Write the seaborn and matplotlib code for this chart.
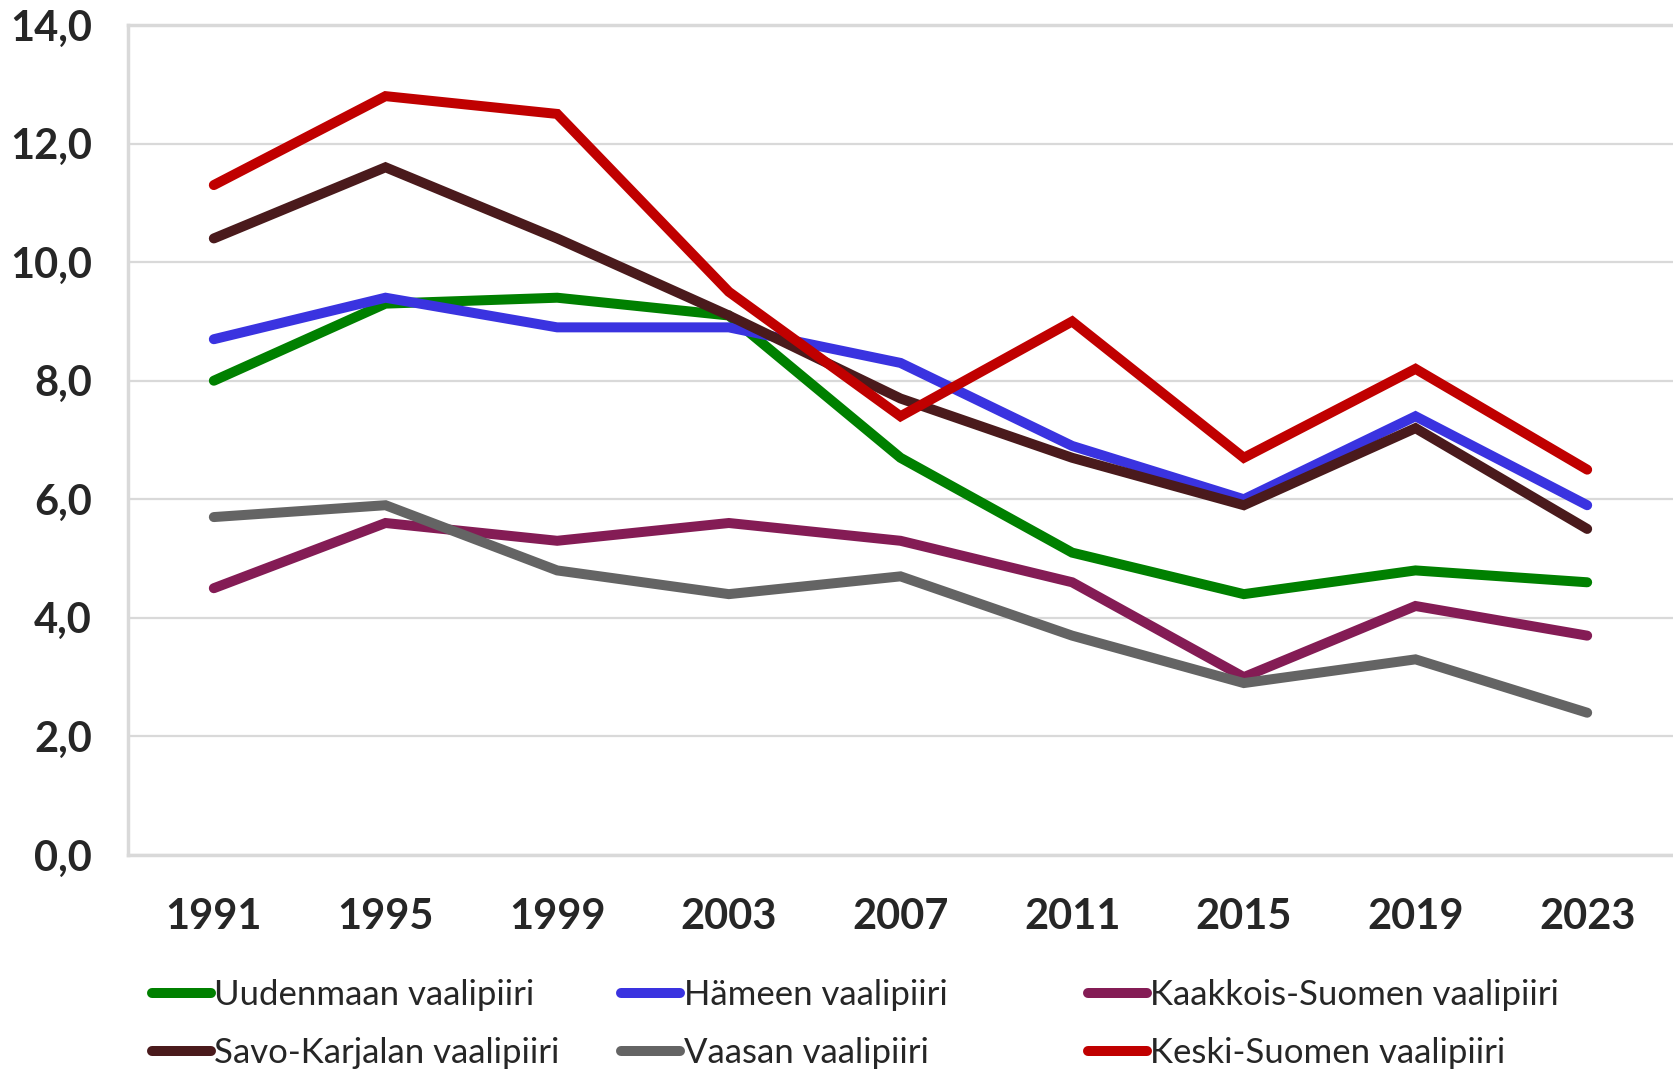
import pandas as pd
import seaborn as sns
import matplotlib.pyplot as plt
from matplotlib.lines import Line2D

# Data
years = ['1991', '1995', '1999', '2003', '2007', '2011', '2015', '2019', '2023']
uudenmaa = [8.0, 9.3, 9.4, 9.1, 6.7, 5.1, 4.4, 4.8, 4.6]
hameen = [8.7, 9.4, 8.9, 8.9, 8.3, 6.9, 6.0, 7.4, 5.9]
kaakkois = [4.5, 5.6, 5.3, 5.6, 5.3, 4.6, 3.0, 4.2, 3.7]
savo_karjala = [10.4, 11.6, 10.4, 9.1, 7.7, 6.7, 5.9, 7.2, 5.5]
vaasa = [5.7, 5.9, 4.8, 4.4, 4.7, 3.7, 2.9, 3.3, 2.4]
keski_suomi = [11.3, 12.8, 12.5, 9.5, 7.4, 9.0, 6.7, 8.2, 6.5]

series_names = ['Uudenmaan vaalipiiri', 'Hämeen vaalipiiri', 'Kaakkois-Suomen vaalipiiri',
                'Savo-Karjalan vaalipiiri', 'Vaasan vaalipiiri', 'Keski-Suomen vaalipiiri']
series_values = [uudenmaa, hameen, kaakkois, savo_karjala, vaasa, keski_suomi]
colors = ['#008000', '#3A33E0', '#841C55', '#4A1A1C', '#646464', '#C00000']

rows = []
for name, vals in zip(series_names, series_values):
    for yr, v in zip(years, vals):
        rows.append({'year': yr, 'value': v, 'district': name})
df = pd.DataFrame(rows)

sns.set_style('white')
plt.rcParams['font.family'] = ['Lato', 'DejaVu Sans']

fig = plt.figure(figsize=(16.73, 10.69), dpi=100)
ax = fig.add_axes([128 / 1673, 1 - 855 / 1069, 1 - 128 / 1673, (855 - 25) / 1069])

for spine in ['left', 'bottom', 'top']:
    ax.spines[spine].set_color('#d9d9d9')
    ax.spines[spine].set_linewidth(2.5)
ax.spines['right'].set_visible(False)

ax.set_ylim(0, 14)
ax.set_yticks(range(0, 15, 2))
ax.yaxis.grid(True, color='#d9d9d9', linewidth=1.6)
ax.set_axisbelow(True)

sns.lineplot(data=df, x='year', y='value', hue='district', hue_order=series_names,
             palette=colors, linewidth=7.2, sort=False, legend=False, ax=ax)
for line in ax.lines:
    line.set_solid_capstyle('round')
    line.set_solid_joinstyle('miter')

ax.set_xlim(-0.5, 8.5)
ax.set_xlabel('')
ax.set_ylabel('')
ax.set_yticklabels([f'{v},0' for v in range(0, 15, 2)])
ax.tick_params(axis='y', length=0, pad=26, labelsize=30)
ax.tick_params(axis='x', length=0, pad=31, labelsize=30)
for lbl in ax.get_xticklabels() + ax.get_yticklabels():
    lbl.set_fontweight('bold')

# legend: three columns, two rows, fixed column positions like the original
col_x = [152, 621, 1088]
for c in range(3):
    idx = [c, c + 3]
    handles = [Line2D([0], [0], color=colors[i], linewidth=7.2, solid_capstyle='round') for i in idx]
    labels = [series_names[i] for i in idx]
    fig.legend(handles, labels, loc='center left', bbox_to_anchor=(col_x[c] / 1673, 1 - 1024 / 1069),
               frameon=False, fontsize=25, handlelength=1.7, handletextpad=0.1,
               labelspacing=0.75, borderpad=0, borderaxespad=0)

fig.savefig('out.png', dpi=100)
